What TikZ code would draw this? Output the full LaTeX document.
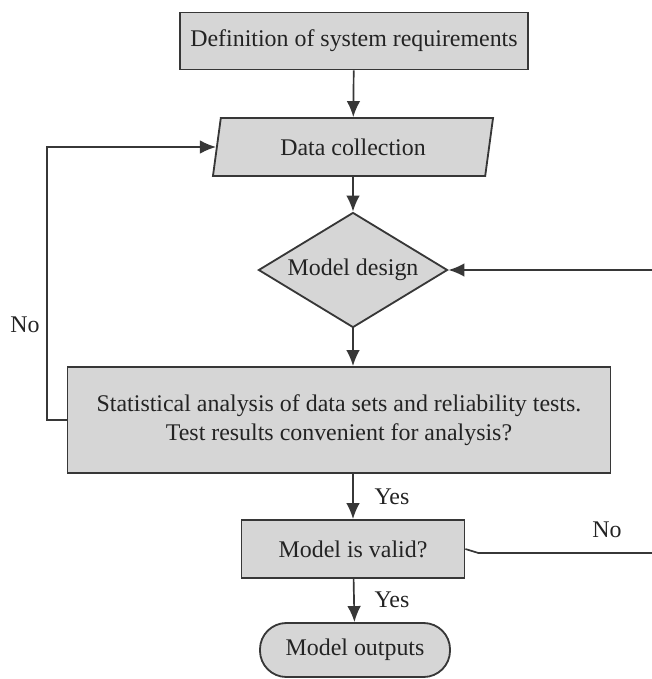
\documentclass[tikz,border=0pt]{standalone}
\usepackage{fontspec}
\setmainfont{Liberation Serif}
\newfontfamily\chartfont{Liberation Serif}
\usetikzlibrary{shapes.geometric,arrows.meta}

\definecolor{boxfill}{RGB}{214,214,214}
\definecolor{boxline}{RGB}{55,55,55}
\definecolor{txtcol}{RGB}{35,35,35}

\tikzset{
  base/.style={draw=boxline,fill=boxfill,line width=1.3pt,inner sep=0pt,text=txtcol},
  process/.style={base,shape=rectangle},
  io/.style={base,shape=trapezium,trapezium left angle=65,trapezium right angle=115,
    trapezium stretches body,minimum width=7cm,minimum height=1.45cm},
  decision/.style={base,shape=diamond,shape aspect=1.6,minimum width=4.725cm,minimum height=2.875cm},
  terminal/.style={base,shape=rectangle,rounded corners=0.66cm,minimum width=4.75cm,minimum height=1.35cm},
  lbl/.style={text=txtcol},
  flow/.style={draw=boxline,line width=1.2pt,-{Latex[length=4mm,width=3.4mm]}},
  line/.style={draw=boxline,line width=1.2pt}
}

\begin{document}
\begin{tikzpicture}[x=0.025cm,y=-0.025cm,font=\chartfont\fontsize{17}{20.6}\selectfont]

\useasboundingbox (0,0) rectangle (652,679);

\node[process,minimum width=8.7cm,minimum height=1.425cm] (req) at (354,41) {Definition of system requirements};
\node[io] (data) at (353,147) {Data collection};
\node[decision] (design) at (353,270) {Model design};
\node[process,minimum width=13.575cm,minimum height=2.65cm,align=center] (stat) at (339,420)
  {Statistical analysis of data sets and reliability tests.\\Test results convenient for analysis?};
\node[process,minimum width=5.575cm,minimum height=1.45cm] (valid) at (353,549) {Model is valid?};
\node[terminal] (out) at (355,650) {Model outputs};

\node[lbl] (no1) at (25,325) {No};
\node[lbl] (no2) at (607,530) {No};
\node[lbl] (yes1) at (392,497) {Yes};
\node[lbl] (yes2) at (392,600) {Yes};

\coordinate (loop) at (47,420);
\coordinate (rin) at (652,270);
\coordinate (rout) at (652,553);

\draw[flow] (req) -- (data);
\draw[flow] (data) -- (design);
\draw[flow] (design) -- (design |- stat.north);
\draw[flow] (stat.south -| valid) -- (valid);
\draw[flow] (valid) -- (out);
\draw[flow] (stat.west) -- (loop) |- (data);
\draw[flow] (rin) -- (design.east);
\draw[line] (valid.east) -- ++(13,4) -- (rout);

\end{tikzpicture}
\end{document}
